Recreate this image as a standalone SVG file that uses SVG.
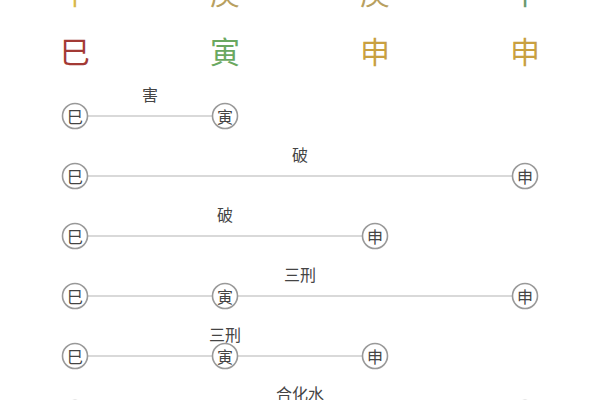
<svg xmlns="http://www.w3.org/2000/svg" width="600" height="400" viewBox="0 0 600 400">
<style>
.big{font-family:"Noto Sans CJK SC","Noto Sans CJK JP",sans-serif;font-size:30px;text-anchor:middle;dominant-baseline:central}
.c circle{fill:#fff;stroke:#999;stroke-width:1.6}
.c text{font-family:"Noto Sans CJK SC","Noto Sans CJK JP",sans-serif;font-size:16px;fill:#444;text-anchor:middle;dominant-baseline:central}
.lbl{font-family:"Noto Sans CJK SC","Noto Sans CJK JP",sans-serif;font-size:16px;fill:#444;text-anchor:middle;dominant-baseline:central}
.ln line{stroke:#ccc;stroke-width:1.6}
</style>
<rect width="600" height="400" fill="#fff"/>
<g id="stems">
<text class="big" x="75" y="-9" fill="#d9b84a">辛</text>
<text class="big" x="225" y="-9" fill="#b8a060">庚</text>
<text class="big" x="375" y="-9" fill="#b8a060">庚</text>
<text class="big" x="525" y="-9" fill="#6a9a70">甲</text>
</g>
<g id="branches">
<text class="big" x="75" y="50" fill="#a33a35">巳</text>
<text class="big" x="225" y="50" fill="#6aa860">寅</text>
<text class="big" x="375" y="50" fill="#c9a040">申</text>
<text class="big" x="525" y="50" fill="#c9a040">申</text>
</g>
<g id="connectors" class="ln">
<line x1="75" y1="116" x2="225" y2="116"/>
<line x1="75" y1="176" x2="525" y2="176"/>
<line x1="75" y1="236" x2="375" y2="236"/>
<line x1="75" y1="296" x2="525" y2="296"/>
<line x1="75" y1="356" x2="375" y2="356"/>
<line x1="75" y1="413" x2="525" y2="413"/>
</g>
<g id="labels">
<text class="lbl" x="150" y="94">害</text>
<text class="lbl" x="300" y="154">破</text>
<text class="lbl" x="225" y="214">破</text>
<text class="lbl" x="300" y="274">三刑</text>
<text class="lbl" x="225" y="334">三刑</text>
<text class="lbl" x="300" y="393">合化水</text>
</g>
<g id="row1" class="c">
<circle cx="75" cy="116" r="12.5"/><text x="75" y="116">巳</text>
<circle cx="225" cy="116" r="12.5"/><text x="225" y="116">寅</text>
</g>
<g id="row2" class="c">
<circle cx="75" cy="176" r="12.5"/><text x="75" y="176">巳</text>
<circle cx="525" cy="176" r="12.5"/><text x="525" y="176">申</text>
</g>
<g id="row3" class="c">
<circle cx="75" cy="236" r="12.5"/><text x="75" y="236">巳</text>
<circle cx="375" cy="236" r="12.5"/><text x="375" y="236">申</text>
</g>
<g id="row4" class="c">
<circle cx="75" cy="296" r="12.5"/><text x="75" y="296">巳</text>
<circle cx="225" cy="296" r="12.5"/><text x="225" y="296">寅</text>
<circle cx="525" cy="296" r="12.5"/><text x="525" y="296">申</text>
</g>
<g id="row5" class="c">
<circle cx="75" cy="356" r="12.5"/><text x="75" y="356">巳</text>
<circle cx="225" cy="356" r="12.5"/><text x="225" y="356">寅</text>
<circle cx="375" cy="356" r="12.5"/><text x="375" y="356">申</text>
</g>
<g id="row6" class="c">
<circle cx="75" cy="413" r="12.5"/><text x="75" y="413">巳</text>
<circle cx="525" cy="413" r="12.5"/><text x="525" y="413">申</text>
</g>
</svg>
